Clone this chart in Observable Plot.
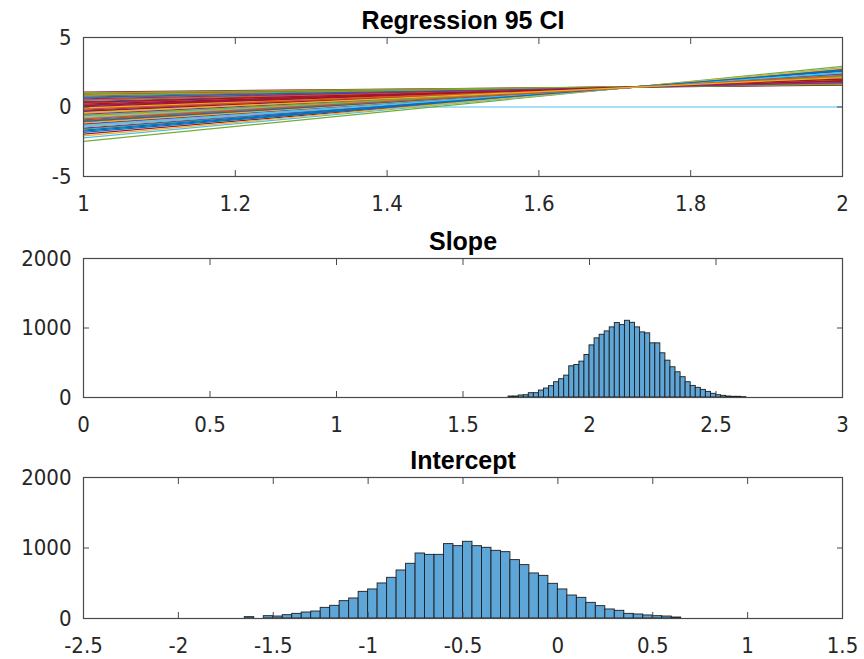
<!DOCTYPE html>
<html><head><meta charset="utf-8">
<script src="https://cdn.jsdelivr.net/npm/d3@7"></script>
<script src="https://cdn.jsdelivr.net/npm/@observablehq/plot@0.6"></script>
<style>
body{margin:0;background:#fff;}
#wrap{position:relative;width:864px;height:659px;overflow:hidden;background:#fff;}
#wrap svg{position:absolute;left:0;overflow:visible;}
</style></head><body><div id="wrap"></div>
<script>
// ---- data ----
const titles = ["Regression 95 CI", "Slope", "Intercept"];
const lineX = [1, 2];
const lineStart = [-0.33,0.66,-1.38,0.14,0.97,-0.74,-1.95,0.39,-1.09,-0.11,0.79,-1.58,-0.58,1.08,-0.92,0.28,-0.46,-0.22,0.52,-1.27,0.09,-1.74,0.91,-0.69,-1.21,-2.48,-2.22,0.33,0.71,-0.98,-0.04,-1.52,1.02,-0.81,-0.29,-1.83,0.47,-1.14,-0.52,0.84,-1.44,0.21,-1.03,-0.16,-2.08,0.58,-0.63,-1.33,0.02,-1.66,-0.86,-0.41];
const lineEnd   = [2.13,1.76,2.52,1.95,1.60,2.24,2.72,1.86,2.37,2.05,1.72,2.55,2.22,1.57,2.35,1.90,2.18,2.09,1.82,2.48,1.93,2.61,1.68,2.26,2.41,2.92,2.82,1.84,1.70,2.33,1.98,2.56,1.63,2.30,2.07,2.68,1.80,2.43,2.16,1.66,2.50,1.88,2.39,2.03,2.78,1.75,2.20,2.46,2.00,2.62,2.28,2.12];
const zeroLineY = [0, 0];
const lineColors = ["#0072BD","#D95319","#EDB120","#7E2F8E","#77AC30","#4DBEEE","#A2142F"];
const regXTicks = [1, 1.2, 1.4, 1.6, 1.8, 2];
const regYTicks = [-5, 0, 5];

const slopeBinStart = 1.68, slopeBinWidth = 0.02;
const slopeCounts = [14,14,29,33,62,62,100,129,163,220,263,315,449,468,516,612,750,851,903,951,1009,1071,1042,1104,1075,1009,937,923,779,779,636,530,435,363,292,220,167,139,110,81,53,33,24,14,10,10,5];
const slopeXTicks = [0, 0.5, 1, 1.5, 2, 2.5, 3];

const interceptBinStart = -1.65, interceptBinWidth = 0.05;
const interceptCounts = [19,0,33,28,47,66,85,99,151,180,246,284,378,412,497,577,681,776,922,903,903,1055,1026,1088,1026,1003,960,941,828,757,639,605,492,412,326,293,222,175,128,109,66,57,43,33,28,14];
const interceptXTicks = [-2.5, -2, -1.5, -1, -0.5, 0, 0.5, 1, 1.5];
const countTicks = [0, 1000, 2000];

// ---- styling ----
const axisColor = "#4a4a4a";
const textColor = "#262626";
const barFill = "#5FA6D8";
const barEdge = "#1c1c1c";
const tickFont = "'Liberation Sans Narrow', 'DejaVu Sans Condensed', 'Liberation Sans', Arial, sans-serif";
const titleFont = "'Liberation Sans', Arial, sans-serif";
const fmt = d => String(d);

function frameAxes(xTicks, yTicks) {
  return [
    Plot.frame({stroke: axisColor, strokeWidth: 1.2}),
    Plot.axisX(xTicks, {anchor: "bottom", tickSize: 0, tickPadding: 19, tickFormat: fmt, label: null, fontSize: 22}),
    Plot.axisX(xTicks, {anchor: "bottom", tickSize: -6, tickFormat: () => "", label: null, stroke: axisColor}),
    Plot.axisX(xTicks, {anchor: "top", tickSize: -6, tickFormat: () => "", label: null, stroke: axisColor}),
    Plot.axisY(yTicks, {anchor: "left", tickSize: 0, tickPadding: 12, tickFormat: fmt, label: null, fontSize: 22}),
    Plot.axisY(yTicks, {anchor: "left", tickSize: -6, tickFormat: () => "", label: null, stroke: axisColor}),
    Plot.axisY(yTicks, {anchor: "right", tickSize: -6, tickFormat: () => "", label: null, stroke: axisColor})
  ];
}
function titleMark(t) {
  return Plot.text([t], {text: d => d, frameAnchor: "top", dy: -9, lineAnchor: "bottom",
    fontWeight: "bold", fontSize: 25, fontFamily: titleFont, fill: "#000"});
}
const common = {width: 864, marginLeft: 83, marginRight: 22,
  style: {fontFamily: tickFont, color: textColor, background: "transparent", overflow: "visible"}};

const wrap = document.getElementById("wrap");
function place(svg, top) { svg.style.top = top + "px"; wrap.appendChild(svg); }

// ---- panel 1: regression lines ----
const regLines = lineStart.map((s, i) => ({x1: lineX[0], x2: lineX[1], y1: s, y2: lineEnd[i], color: lineColors[i % lineColors.length]}));
const zeroLine = [{x1: lineX[0], x2: lineX[1], y1: zeroLineY[0], y2: zeroLineY[1], color: lineColors[5]}];
place(Plot.plot({
  ...common, height: 220, marginTop: 37, marginBottom: 44,
  x: {domain: [1, 2]}, y: {domain: [-5, 5]},
  marks: [
    Plot.link(zeroLine, {x1: "x1", x2: "x2", y1: "y1", y2: "y2", stroke: "color", strokeWidth: 1.1}),
    Plot.link(regLines, {x1: "x1", x2: "x2", y1: "y1", y2: "y2", stroke: "color", strokeWidth: 1.2}),
    ...frameAxes(regXTicks, regYTicks),
    titleMark(titles[0])
  ]
}), 0);

// ---- panel 2: slope histogram ----
const slopeBins = slopeCounts.map((c, i) => ({x1: slopeBinStart + i * slopeBinWidth, x2: slopeBinStart + (i + 1) * slopeBinWidth, count: c})).filter(d => d.count > 0);
place(Plot.plot({
  ...common, height: 220, marginTop: 38, marginBottom: 43,
  x: {domain: [0, 3]}, y: {domain: [0, 2000]},
  marks: [
    Plot.rectY(slopeBins, {x1: "x1", x2: "x2", y: "count", fill: barFill, stroke: barEdge, strokeWidth: 0.9}),
    ...frameAxes(slopeXTicks, countTicks),
    titleMark(titles[1])
  ]
}), 220);

// ---- panel 3: intercept histogram ----
const interceptBins = interceptCounts.map((c, i) => ({x1: interceptBinStart + i * interceptBinWidth, x2: interceptBinStart + (i + 1) * interceptBinWidth, count: c})).filter(d => d.count > 0);
place(Plot.plot({
  ...common, height: 219, marginTop: 37, marginBottom: 41,
  x: {domain: [-2.5, 1.5]}, y: {domain: [0, 2000]},
  marks: [
    Plot.rectY(interceptBins, {x1: "x1", x2: "x2", y: "count", fill: barFill, stroke: barEdge, strokeWidth: 0.9}),
    ...frameAxes(interceptXTicks, countTicks),
    titleMark(titles[2])
  ]
}), 440);
</script></body></html>
